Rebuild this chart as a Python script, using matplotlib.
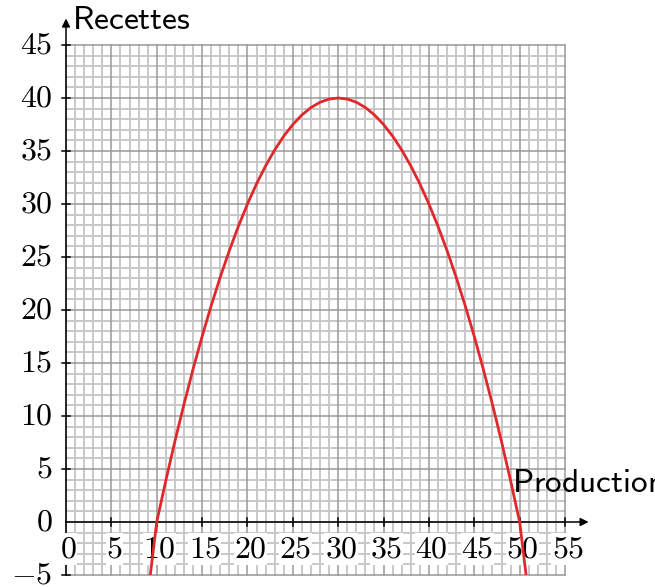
import numpy as np
import matplotlib.pyplot as plt

plt.rcParams['mathtext.fontset'] = 'cm'

# curve points (production -> recettes)
production = [9.29, 10, 11, 12, 13, 14, 15, 16, 17, 18, 19, 20, 21, 22, 23, 24, 25,
              26, 27, 28, 29, 30, 31, 32, 33, 34, 35, 36, 37, 38, 39, 40, 41, 42,
              43, 44, 45, 46, 47, 48, 49, 50, 50.71]
recettes = [-5, 0, 3.9, 7.6, 11.1, 14.4, 17.5, 20.4, 23.1, 25.6, 27.9, 30, 31.9,
            33.6, 35.1, 36.4, 37.5, 38.4, 39.1, 39.6, 39.9, 40, 39.9, 39.6, 39.1,
            38.4, 37.5, 36.4, 35.1, 33.6, 31.9, 30, 27.9, 25.6, 23.1, 20.4, 17.5,
            14.4, 11.1, 7.6, 3.9, 0, -5]

x_ticks = [0, 5, 10, 15, 20, 25, 30, 35, 40, 45, 50, 55]
y_ticks = [-5, 0, 5, 10, 15, 20, 25, 30, 35, 40, 45]
x_label = 'Production'
y_label = 'Recettes'

xmin, xmax = 0, 55
ymin, ymax = -5, 45

fig = plt.figure(figsize=(6.55, 5.87), dpi=100)
ax = fig.add_axes([0, 0, 1, 1])
# pixel mapping: x=0 at 66px, 9.073 px/unit ; y=0 at 522px, 10.6 px/unit
ax.set_xlim(-66 / 9.073, (655 - 66) / 9.073)
ax.set_ylim((522 - 587) / 10.6, 522 / 10.6)
ax.axis('off')

# minor grid
for v in np.arange(xmin, xmax + 1):
    if v % 5:
        ax.plot([v, v], [ymin, ymax], color='#c8c8c8', lw=1.4, zorder=1)
for v in np.arange(ymin, ymax + 1):
    if v % 5:
        ax.plot([xmin, xmax], [v, v], color='#c8c8c8', lw=1.4, zorder=1)
# major grid
for v in x_ticks:
    ax.plot([v, v], [ymin, ymax], color='#999999', lw=1.1, zorder=2)
for v in y_ticks:
    ax.plot([xmin, xmax], [v, v], color='#999999', lw=1.1, zorder=2)

# axes with arrows
ax.annotate('', xy=(57.6, 0), xytext=(0, 0),
            arrowprops=dict(arrowstyle='-|>', color='black', lw=1.1,
                            mutation_scale=12, shrinkA=0, shrinkB=0), zorder=4)
ax.annotate('', xy=(0, 47.5), xytext=(0, ymin),
            arrowprops=dict(arrowstyle='-|>', color='black', lw=1.1,
                            mutation_scale=12, shrinkA=0, shrinkB=0), zorder=4)

for v in x_ticks[1:]:
    ax.plot([v, v], [-0.4, 0.4], color='black', lw=1.1, zorder=4)
for v in y_ticks:
    if v != 0:
        ax.plot([-0.45, 0.45], [v, v], color='black', lw=1.1, zorder=4)

# tick labels
for v in x_ticks:
    ax.text(v + 0.3, -2.55, r'$%d$' % v, fontsize=23, ha='center', va='center',
            bbox=dict(facecolor='white', edgecolor='none', pad=0.3), zorder=5)
for v in y_ticks:
    ax.text(-1.5, v, r'$%d$' % v, fontsize=23, ha='right', va='center', zorder=5)

ax.text(0.7, 47.4, r'$\mathsf{%s}$' % y_label, fontsize=24, ha='left', va='center', zorder=5)
ax.text(49.2, 3.7, r'$\mathsf{%s}$' % x_label, fontsize=24, ha='left', va='center', zorder=5)

ax.plot(production, recettes, color='#e0282c', lw=2.0, zorder=6, solid_capstyle='butt')

fig.savefig('out.png', dpi=100)
